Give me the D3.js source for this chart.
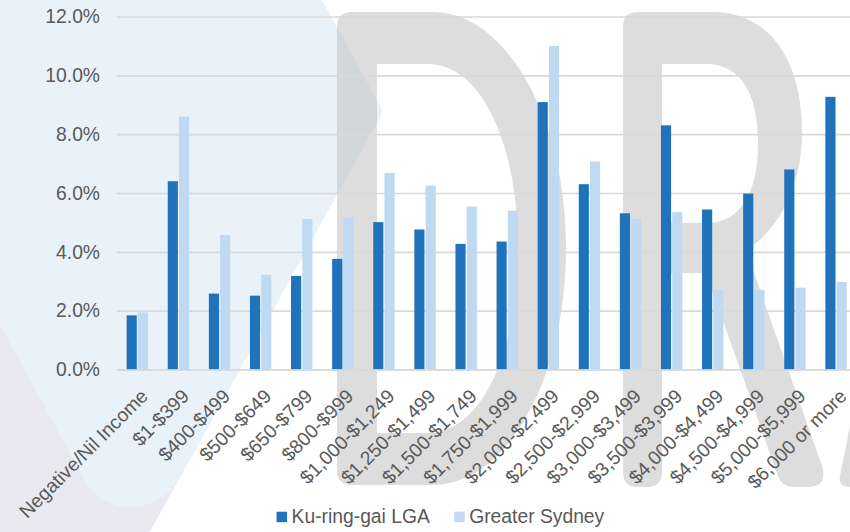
<!DOCTYPE html>
<html>
<head>
<meta charset="utf-8">
<script src="https://cdn.jsdelivr.net/npm/d3@7"></script>
<style>
  html, body { margin: 0; padding: 0; background: #ffffff; }
  svg { display: block; font-family: "Liberation Sans", Arial, sans-serif; }
</style>
</head>
<body>
<svg id="chart" width="850" height="532"></svg>
<script>
// Weekly household income distribution (share of households)
const categories = [
  "Negative/Nil Income", "$1-$399", "$400-$499", "$500-$649", "$650-$799",
  "$800-$999", "$1,000-$1,249", "$1,250-$1,499", "$1,500-$1,749", "$1,750-$1,999",
  "$2,000-$2,499", "$2,500-$2,999", "$3,000-$3,499", "$3,500-$3,999",
  "$4,000-$4,499", "$4,500-$4,999", "$5,000-$5,999", "$6,000 or more"
];
const seriesNames = ["Ku-ring-gai LGA", "Greater Sydney"];
const kuRingGai = [1.84, 6.40, 2.58, 2.51, 3.18, 3.76, 5.01, 4.76, 4.27, 4.35, 9.09, 6.30, 5.31, 8.30, 5.44, 5.98, 6.80, 9.27];
const greaterSydney = [1.94, 8.60, 4.57, 3.22, 5.12, 5.16, 6.68, 6.25, 5.54, 5.40, 11.0, 7.07, 5.12, 5.35, 2.70, 2.71, 2.78, 2.98];
const yTicks = [0, 2, 4, 6, 8, 10, 12];

const seriesColors = ["#1f73bb", "#bed9f1"];
const textColor = "#595959";
const fontSize = 19.3;

const svg = d3.select("#chart");
const W = 850, H = 532;

svg.append("rect").attr("width", W).attr("height", H).attr("fill", "#ffffff");

// ---- background logo / DRAFT watermark ----
function roundedPolygon(pts, radii) {
  const n = pts.length;
  let d = "";
  for (let i = 0; i < n; i++) {
    const p0 = pts[(i - 1 + n) % n], p1 = pts[i], p2 = pts[(i + 1) % n];
    const r = radii[i];
    if (!r) { d += (i === 0 ? "M" : "L") + p1[0] + "," + p1[1]; continue; }
    const a1 = [p0[0] - p1[0], p0[1] - p1[1]], a2 = [p2[0] - p1[0], p2[1] - p1[1]];
    const l1 = Math.hypot(a1[0], a1[1]), l2 = Math.hypot(a2[0], a2[1]);
    const u1 = [a1[0] / l1, a1[1] / l1], u2 = [a2[0] / l2, a2[1] / l2];
    const ang = Math.acos(u1[0] * u2[0] + u1[1] * u2[1]);
    const t = r / Math.tan(ang / 2);
    const A = [p1[0] + u1[0] * t, p1[1] + u1[1] * t];
    const B = [p1[0] + u2[0] * t, p1[1] + u2[1] * t];
    const d1 = [-u1[0], -u1[1]];
    const cross = d1[0] * u2[1] - d1[1] * u2[0];
    d += (i === 0 ? "M" : "L") + A[0] + "," + A[1] +
         "A" + r + "," + r + " 0 0 " + (cross > 0 ? 1 : 0) + " " + B[0] + "," + B[1];
  }
  return d + "Z";
}

const bg = svg.append("g").attr("class", "backdrop");
bg.append("path")
  .attr("d", roundedPolygon([[-10, 280], [278.5, 300], [134, 560], [-10, 560]], [0, 0, 0, 0]))
  .attr("fill", "#e9e9ef");
bg.append("path")
  .attr("d", roundedPolygon([[-231.5, -100], [267, -100], [383.3, 111.5], [131, 565]], [0, 0, 12, 54]))
  .attr("fill", "#e9f2f8");

const mark = bg.append("g").attr("opacity", 0.5).attr("fill", "#bcbcbc").attr("fill-rule", "evenodd");
// D
mark.append("path").attr("d",
  "M352,12H433C506,12 566,118 566,248C566,380 506,485 433,485H352Q337,485 337,470V27Q337,12 352,12Z" +
  "M377,64H428C482,64 518,145 518,248C518,352 482,433 428,433H377Z");
// R
mark.append("path").attr("d",
  "M638,12H712C768,12 802,58 802,132C802,190 776,232 746,250L822,466Q828,487 808,487H793Q782,487 778,476L706,273H662V472Q662,487 647,487H638Q623,487 623,472V27Q623,12 638,12Z" +
  "M662,64H706C740,64 758,92 758,143C758,194 740,223 706,223H662Z");
// A (left leg, cut by the edge)
mark.append("path").attr("d", "M850,487Q838,487 840,476L935,0H990L895,487Z");

// ---- chart ----
const plotLeft = 116.8, plotRight = 856.6, plotTop = 16.5, plotBottom = 369.5;

const x0 = d3.scaleBand().domain(categories).range([plotLeft, plotRight]).paddingInner(0).paddingOuter(0);
const groupW = 21.4;
const x1 = d3.scaleBand().domain(seriesNames).range([0, groupW]).paddingInner(0.1);
const y = d3.scaleLinear().domain([0, 12]).range([plotBottom, plotTop]);

// gridlines + y labels
const yAxis = svg.append("g")
  .attr("transform", `translate(${plotLeft},0)`)
  .call(d3.axisLeft(y).tickValues(yTicks)
    .tickFormat(d => d.toFixed(1) + "%")
    .tickSizeInner(-(plotRight - plotLeft)).tickSizeOuter(0).tickPadding(16.8));
yAxis.select(".domain").remove();
yAxis.selectAll(".tick line").attr("stroke", "#d9d9d9").attr("stroke-width", 1.6);
yAxis.selectAll(".tick text")
  .attr("fill", textColor).attr("font-size", fontSize)
  .attr("font-family", "Liberation Sans, Arial, sans-serif");

// bars
const rows = categories.map((c, i) => ({ cat: c, values: [kuRingGai[i], greaterSydney[i]] }));
const groups = svg.append("g").selectAll("g.grp").data(rows).join("g")
  .attr("class", "grp")
  .attr("transform", d => `translate(${x0(d.cat) + (x0.bandwidth() - groupW) / 2},0)`);
groups.selectAll("rect").data(d => d.values.map((v, k) => ({ s: seriesNames[k], v, k }))).join("rect")
  .attr("x", d => x1(d.s))
  .attr("width", x1.bandwidth())
  .attr("y", d => y(d.v))
  .attr("height", d => y(0) - y(d.v))
  .attr("fill", d => seriesColors[d.k]);

// category axis
const xAxis = svg.append("g")
  .attr("transform", `translate(0,${plotBottom})`)
  .call(d3.axisBottom(x0).tickSize(0).tickPadding(0));
xAxis.select(".domain").attr("stroke", "#d9d9d9").attr("stroke-width", 1.6);
xAxis.selectAll(".tick text")
  .attr("fill", textColor).attr("font-size", fontSize)
  .attr("font-family", "Liberation Sans, Arial, sans-serif")
  .attr("text-anchor", "end")
  .attr("x", 0).attr("y", 0).attr("dy", "0.72em")
  .attr("transform", "translate(2,18) rotate(-45)");

// legend
const legend = svg.append("g").attr("class", "legend");
const items = legend.selectAll("g").data(seriesNames).join("g");
items.append("rect").attr("width", 10.5).attr("height", 10.5).attr("y", 511.7)
  .attr("fill", (d, i) => seriesColors[i]);
items.append("text").attr("x", 15).attr("y", 522.5)
  .attr("fill", textColor).attr("font-size", fontSize)
  .text(d => d);
let cursor = 0;
const offsets = [];
items.each(function (d, i) {
  const w = this.querySelector("text").getComputedTextLength();
  offsets.push(cursor);
  cursor += 15 + w + (i < seriesNames.length - 1 ? 24.4 : 0);
});
const startX = 440.4 - cursor / 2;
items.attr("transform", (d, i) => `translate(${startX + offsets[i]},0)`);
</script>
</body>
</html>
